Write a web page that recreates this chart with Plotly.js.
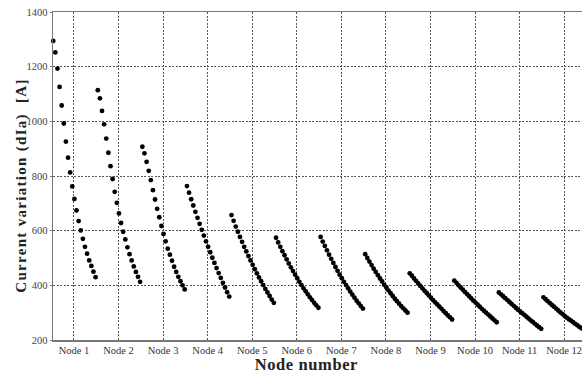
<!DOCTYPE html>
<html>
<head>
<meta charset="utf-8">
<script src="https://cdn.plot.ly/plotly-3.0.1.min.js"></script>
<style>
  html, body { margin: 0; padding: 0; background: #fff; }
  #chart { width: 582px; height: 373px; }
  g.annotation[data-index="0"] text { letter-spacing: 1.3px; }
  g.annotation[data-index="1"] text { letter-spacing: 0.6px; }
</style>
</head>
<body>
<div id="chart"></div>
<script>
const nodeLabels = ["Node 1","Node 2","Node 3","Node 4","Node 5","Node 6","Node 7","Node 8","Node 9","Node 10","Node 11","Node 12"];
const yTicks = [200, 400, 600, 800, 1000, 1200, 1400];

const node1  = [1294, 1252, 1193, 1126, 1058, 992, 926, 867, 813, 762, 716, 674, 635, 601, 570, 541, 516, 491, 471, 450, 430];
const node2  = [1114, 1084, 1038, 989, 937, 885, 836, 789, 742, 702, 663, 628, 596, 568, 539, 514, 491, 469, 449, 431, 413];
const node3  = [907, 883, 852, 819, 785, 748, 714, 680, 649, 617, 588, 561, 534, 512, 490, 468, 449, 431, 415, 400, 385];
const node4  = [763, 739, 715, 692, 669, 647, 625, 603, 582, 561, 541, 521, 501, 482, 463, 445, 427, 409, 392, 375, 359];
const node5  = [657, 636, 615, 596, 577, 559, 541, 524, 507, 491, 475, 459, 444, 429, 415, 401, 387, 374, 361, 348, 336];
const node6  = [574, 557, 541, 525, 510, 495, 480, 466, 452, 439, 426, 413, 401, 389, 378, 367, 356, 346, 336, 327, 318];
const node7  = [577, 560, 544, 528, 512, 497, 482, 467, 453, 439, 426, 413, 401, 389, 377, 366, 355, 344, 334, 324, 315];
const node8  = [514, 500, 487, 474, 461, 449, 437, 425, 414, 402, 392, 381, 371, 361, 351, 342, 333, 324, 316, 308, 300];
const node9  = [444, 435, 425, 416, 407, 398, 389, 380, 372, 363, 355, 346, 338, 330, 322, 314, 306, 298, 290, 283, 275];
const node10 = [417, 409, 400, 392, 384, 376, 368, 360, 352, 344, 337, 329, 322, 314, 307, 300, 293, 286, 279, 272, 265];
const node11 = [374, 367, 360, 353, 346, 339, 332, 325, 318, 311, 305, 298, 292, 285, 279, 272, 266, 259, 253, 247, 241];
const node12 = [356, 349, 342, 335, 328, 322, 315, 308, 301, 295, 288, 282, 276, 271, 265, 259, 254, 248, 243, 238, 233];

const nodeSeries = [node1, node2, node3, node4, node5, node6, node7, node8, node9, node10, node11, node12];

const serif = "Liberation Serif, serif";

const traces = nodeSeries.map(function (vals, k) {
  const n = vals.length;
  const xs = vals.map(function (_, i) { return (k + 1) - 0.465 + 0.95 * i / (n - 1); });
  return {
    type: 'scatter',
    mode: 'markers',
    x: xs,
    y: vals,
    name: nodeLabels[k],
    cliponaxis: false,
    marker: { color: '#000', size: 4.8 },
    hoverinfo: 'skip'
  };
});

const layout = {
  width: 582,
  height: 373,
  margin: { l: 53, r: 0, t: 12, b: 33 },
  paper_bgcolor: '#fff',
  plot_bgcolor: '#fff',
  showlegend: false,
  font: { family: serif, color: '#333', size: 10.5 },
  xaxis: {
    range: [0.53, 12.4],
    tickvals: [1,2,3,4,5,6,7,8,9,10,11,12],
    ticktext: nodeLabels,
    showgrid: true,
    gridcolor: '#555',
    griddash: '2px,1.5px',
    gridwidth: 1,
    showline: true,
    linecolor: '#777',
    linewidth: 1.5,
    mirror: true,
    ticks: '',
    zeroline: false,
    ticklabeloverflow: 'allow',
    tickfont: { family: serif, size: 10.5, color: '#333' }
  },
  yaxis: {
    range: [200, 1400],
    tickvals: yTicks,
    showgrid: true,
    gridcolor: '#555',
    griddash: '2px,1.5px',
    gridwidth: 1,
    showline: true,
    linecolor: '#777',
    linewidth: 1.5,
    ticks: 'outside',
    ticklen: 2,
    tickcolor: '#777',
    zeroline: false,
    tickfont: { family: serif, size: 10.5, color: '#444' }
  },
  annotations: [
    {
      text: 'Current variation (dIa)  [A]',
      xref: 'paper', yref: 'paper',
      x: -0.0598, y: 0.472,
      xanchor: 'center', yanchor: 'middle',
      textangle: -90,
      showarrow: false,
      font: { family: serif, size: 15, color: '#222', weight: 'bold' }
    },
    {
      text: 'Node number',
      xref: 'paper', yref: 'paper',
      x: 0.48, y: -0.076,
      xanchor: 'center', yanchor: 'middle',
      showarrow: false,
      font: { family: serif, size: 16.5, color: '#222', weight: 'bold' }
    }
  ]
};

Plotly.newPlot('chart', traces, layout, { displayModeBar: false, staticPlot: true });
</script>
</body>
</html>
